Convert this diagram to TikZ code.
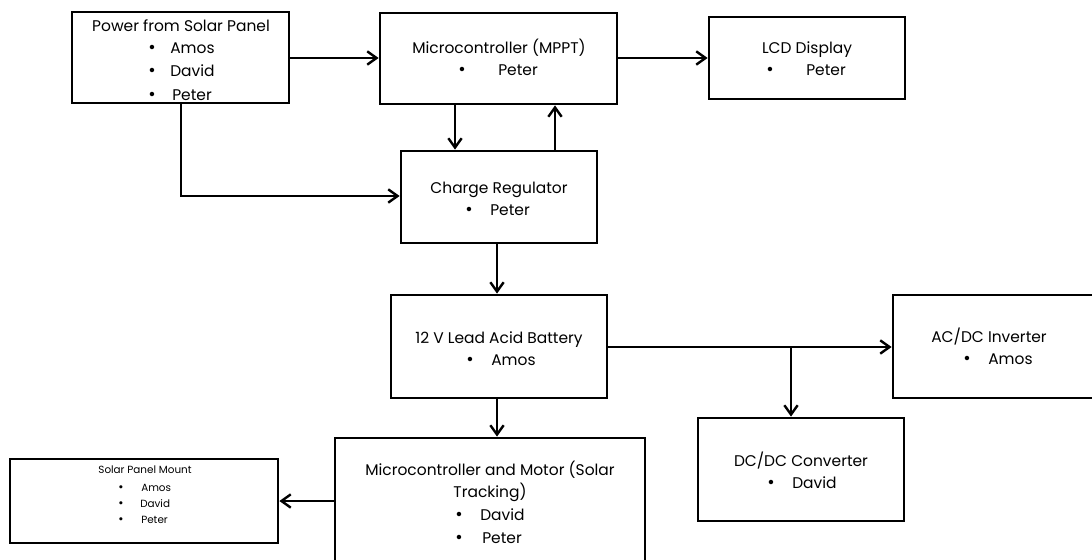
\documentclass[tikz,border=0pt]{standalone}
\usepackage{fontspec}
\setmainfont{Poppins}
\usetikzlibrary{arrows.meta,fit,calc}
\begin{document}
\begin{tikzpicture}[x=0.75pt,y=-0.75pt,
  blk/.style={draw=black,line width=2.1pt,inner sep=0pt,fill=none},
  arr/.style={line width=1.8pt,-{Straight Barb[length=7pt,width=10pt,line width=1.8pt]}},
  txt/.style={inner sep=0pt,font=\fontsize{11.6}{13}\selectfont,anchor=base},
  stxt/.style={inner sep=0pt,font=\fontsize{7.8}{9}\selectfont,anchor=base},
  bul/.style={inner sep=0pt,font=\fontsize{13.5}{13}\selectfont,anchor=base},
  sbul/.style={inner sep=0pt,font=\fontsize{9.5}{9}\selectfont,anchor=base}]
\useasboundingbox[fill=white] (0,0) rectangle (1092,560);
% box corners
\coordinate (pow1) at (72,12);   \coordinate (pow2) at (289,103);
\coordinate (mp1) at (380,13);   \coordinate (mp2) at (617,104);
\coordinate (lcd1) at (709,17);  \coordinate (lcd2) at (905,99);
\coordinate (cr1) at (401,151);  \coordinate (cr2) at (597,243);
\coordinate (bat1) at (391,295); \coordinate (bat2) at (607,398);
\coordinate (ac1) at (893,295);  \coordinate (ac2) at (1102,398);
\coordinate (dc1) at (698,418);  \coordinate (dc2) at (904,521);
\coordinate (mc1) at (335,438);  \coordinate (mc2) at (645,575);
\coordinate (sm1) at (10,459);   \coordinate (sm2) at (278,543);
\node[blk,fit=(pow1)(pow2)] (pow) {};
\node[blk,fit=(mp1)(mp2)] (mppt) {};
\node[blk,fit=(lcd1)(lcd2)] (lcd) {};
\node[blk,fit=(cr1)(cr2)] (cr) {};
\node[blk,fit=(bat1)(bat2)] (bat) {};
\node[blk,fit=(ac1)(ac2)] (ac) {};
\node[blk,fit=(dc1)(dc2)] (dc) {};
\node[blk,fit=(mc1)(mc2)] (mc) {};
\node[blk,fit=(sm1)(sm2)] (sm) {};
% connector helper coordinates
\coordinate (xa) at (455,0);
\coordinate (xb) at (555,0);
\coordinate (xc) at (181,0);
\coordinate (xd) at (497,0);
\coordinate (xe) at (791,0);
\coordinate (ya) at (0,58);
\coordinate (yb) at (0,196);
\coordinate (yc) at (0,347);
\coordinate (yd) at (0,501);
% connectors
\draw[arr] (pow.east |- ya) -- (mppt.west |- ya);
\draw[arr] (mppt.east |- ya) -- (lcd.west |- ya);
\draw[arr] (mppt.south -| xa) -- (cr.north -| xa);
\draw[arr] (cr.north -| xb) -- (mppt.south -| xb);
\draw[arr] (pow.south -| xc) |- (cr.west |- yb);
\draw[arr] (cr.south -| xd) -- (bat.north -| xd);
\draw[arr] (bat.south -| xd) -- (mc.north -| xd);
\draw[arr] (bat.east |- yc) -- (ac.west |- yc);
\draw[arr] (xe |- yc) -- (dc.north -| xe);
\draw[arr] (mc.west |- yd) -- (sm.east |- yd);
% texts
\begin{scope}[yshift=-1.5pt]
\node[txt] (t1) at (181,30) {Power from Solar Panel};
\node[bul] (b1a) at (152,52) {•}; \node[txt,anchor=base west] (n1a) at (170,52) {Amos};
\node[bul] (b1b) at (152,75) {•}; \node[txt,anchor=base west] (n1b) at (170,75) {David};
\node[bul] (b1c) at (152,98) {•}; \node[txt,anchor=base west] (n1c) at (172,98) {Peter};

\node[txt] (t2) at (499,52) {Microcontroller (MPPT)};
\node[bul] (b2) at (462,74) {•}; \node[txt,anchor=base west] (n2) at (498,74) {Peter};

\node[txt] (t3) at (807,52) {LCD Display};
\node[bul] (b3) at (770,74) {•}; \node[txt,anchor=base west] (n3) at (806,74) {Peter};

\node[txt] (t4) at (499,191) {Charge Regulator};
\node[bul] (b4) at (469,213) {•}; \node[txt,anchor=base west] (n4) at (490,213) {Peter};

\node[txt] (t5) at (499,341) {12 V Lead Acid Battery};
\node[bul] (b5) at (470,363) {•}; \node[txt,anchor=base west] (n5) at (491,363) {Amos};

\node[txt] (t6) at (989,340) {AC/DC Inverter};
\node[bul] (b6) at (967,362) {•}; \node[txt,anchor=base west] (n6) at (988,362) {Amos};

\node[txt] (t7) at (801,464) {DC/DC Converter};
\node[bul] (b7) at (771,486) {•}; \node[txt,anchor=base west] (n7) at (792,486) {David};

\node[txt] (t8a) at (490,473) {Microcontroller and Motor (Solar};
\node[txt] (t8b) at (490,495) {Tracking)};
\node[bul] (b8a) at (459,518) {•}; \node[txt,anchor=base west] (n8a) at (480,518) {David};
\node[bul] (b8b) at (459,541) {•}; \node[txt,anchor=base west] (n8b) at (482,541) {Peter};

\node[stxt] (t9) at (145,471) {Solar Panel Mount};
\node[sbul] (b9a) at (121,489) {•}; \node[stxt,anchor=base west] (n9a) at (141,489) {Amos};
\node[sbul] (b9b) at (121,505) {•}; \node[stxt,anchor=base west] (n9b) at (140,505) {David};
\node[sbul] (b9c) at (121,521) {•}; \node[stxt,anchor=base west] (n9c) at (141,521) {Peter};
\end{scope}
\end{tikzpicture}
\end{document}
